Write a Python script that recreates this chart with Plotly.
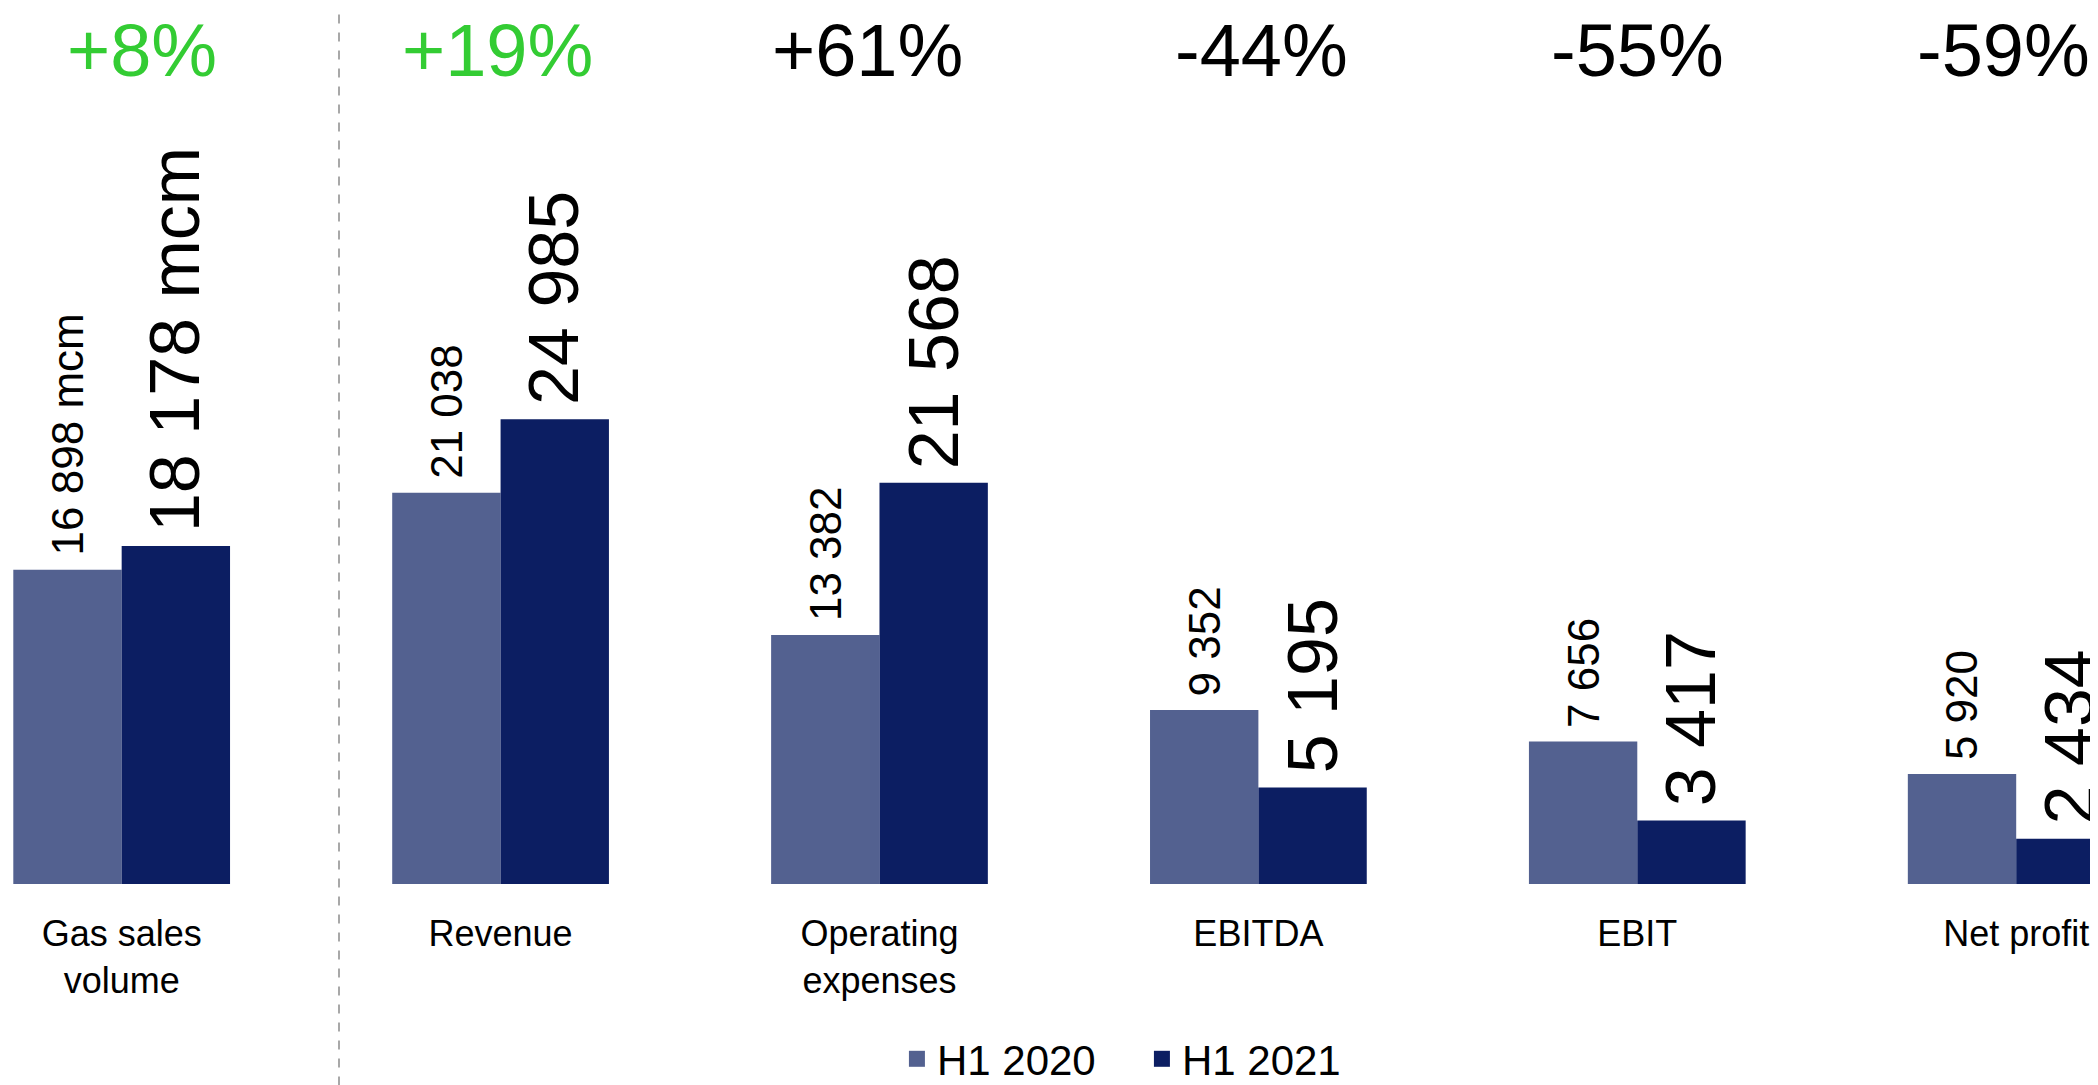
import plotly.graph_objects as go

categories = ["Gas sales<br>volume", "Revenue", "Operating<br>expenses", "EBITDA", "EBIT", "Net profit"]
h1_2020 = [16898, 21038, 13382, 9352, 7656, 5920]
h1_2021 = [18178, 24985, 21568, 5195, 3417, 2434]
units = [" mcm", "", "", "", "", ""]
change_labels = ["+8%", "+19%", "+61%", "-44%", "-55%", "-59%"]
change_colors = ["#33CC33", "#33CC33", "#000000", "#000000", "#000000", "#000000"]
series_names = ["H1 2020", "H1 2021"]
series_colors = ["#536190", "#0C1E62"]

# small horizontal nudges (px) of the change labels, as in the reference layout
change_nudge = [20, -3, -12, 3, 0, -13]

FONT = "Liberation Sans, Arial, sans-serif"


def fmt(v, unit):
    return f"{v:,}".replace(",", " ") + unit


fig = go.Figure()
for name, vals, col in zip(series_names, [h1_2020, h1_2021], series_colors):
    fig.add_trace(go.Bar(
        x=categories, y=vals, name=name,
        marker=dict(color=col, line=dict(width=0)),
        hoverinfo="skip", showlegend=False,
    ))
# legend entries with larger square symbols
for name, col in zip(series_names, series_colors):
    fig.add_trace(go.Scatter(
        x=[None], y=[None], name=name, mode="markers",
        marker=dict(symbol="square", size=22, color=col),
        hoverinfo="skip",
    ))

annotations = []
for i, cat in enumerate(categories):
    for vals, shift, size in [(h1_2020, -54, 44), (h1_2021, 54, 70)]:
        annotations.append(dict(
            x=cat, y=vals[i], xref="x", yref="y",
            text=fmt(vals[i], units[i]), textangle=-90,
            showarrow=False, xanchor="center", yanchor="bottom",
            xshift=shift, yshift=12,
            font=dict(family=FONT, size=size, color="#000000"),
        ))
    annotations.append(dict(
        x=cat, y=1.0, xref="x", yref="paper",
        text=change_labels[i], showarrow=False,
        xanchor="center", yanchor="top", xshift=change_nudge[i],
        borderpad=0,
        font=dict(family=FONT, size=74, color=change_colors[i]),
    ))

fig.update_layout(
    width=2098, height=1085,
    margin=dict(l=0, r=0, t=0, b=191),
    paper_bgcolor="white", plot_bgcolor="white",
    barmode="group", bargap=0.428, bargroupgap=0,
    font=dict(family=FONT, color="#000000"),
    showlegend=True,
    legend=dict(
        orientation="h", x=0.4237, xanchor="left", y=-0.2, yanchor="middle",
        font=dict(family=FONT, size=42, color="#000000"),
        bgcolor="rgba(0,0,0,0)", itemsizing="trace",
        entrywidth=200, entrywidthmode="pixels",
    ),
    xaxis=dict(
        range=[-0.300, 5.237], showgrid=False, zeroline=False, showline=False,
        ticks="", tickfont=dict(family=FONT, size=36, color="#000000"),
        ticklabelstandoff=25, fixedrange=True,
    ),
    yaxis=dict(
        range=[0, 47100], visible=False, showgrid=False, zeroline=False, fixedrange=True,
    ),
    annotations=annotations,
    shapes=[dict(
        type="line", xref="paper", yref="paper",
        x0=331 / 2098, x1=331 / 2098, y0=-0.23, y1=1.0,
        line=dict(color="#8C8C8C", width=1.5, dash="dash"),
        layer="above",
    )],
)

fig.write_html("out.html", config={"displayModeBar": False})
